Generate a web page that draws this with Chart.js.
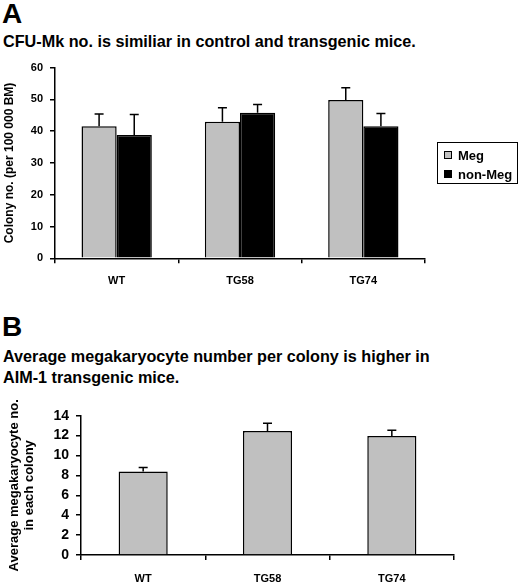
<!DOCTYPE html>
<html lang="en">
<head>
    <meta charset="UTF-8">
    <title>CFU-Mk colonies</title>
    <script src="https://cdn.jsdelivr.net/npm/chart.js"></script>
    <style>
        body { margin: 0; background: #fff; font-family: "Liberation Sans", Arial, sans-serif; font-weight: bold; color: #000; }
        .page { position: relative; width: 520px; height: 586px; overflow: hidden; }
        .abs { position: absolute; }
        .letter { font-size: 28px; line-height: 28px; }
        .title { font-size: 16.2px; line-height: 21px; white-space: nowrap; }
        .legend { border: 1.5px solid #000; box-sizing: border-box; font-size: 13px; padding: 3px 0 0 6px; }
        .legend div { height: 19px; line-height: 19px; }
        .legend span.sw { display: inline-block; width: 6px; height: 6px; border: 1px solid #000; margin-right: 6px; vertical-align: 1px; }
    </style>
</head>
<body>
<div class="page">
    <div class="abs letter" style="left:2px; top:0px;">A</div>
    <div class="abs title" style="left:3px; top:31px;">CFU-Mk no. is similiar in control and transgenic mice.</div>
    <canvas id="chartA" class="abs" style="left:0; top:50px; width:520px; height:240px;"></canvas>
    <div id="legendA" class="abs legend" style="left:437px; top:142px; width:81px; height:42px;"></div>

    <div class="abs letter" style="left:2px; top:313px;">B</div>
    <div class="abs title" style="left:3px; top:346px;">Average megakaryocyte number per colony is higher in<br>AIM-1 transgenic mice.</div>
    <canvas id="chartB" class="abs" style="left:0; top:390px; width:520px; height:196px;"></canvas>
</div>
<script>
    const categories = ['WT', 'TG58', 'TG74'];

    // panel A
    const megValues = [41.6, 43.0, 49.8];
    const megErrors = [3.8, 4.4, 3.9];
    const nonMegValues = [38.8, 45.8, 41.6];
    const nonMegErrors = [6.5, 2.6, 4.0];

    // panel B
    const perColonyValues = [8.4, 12.45, 11.95];
    const perColonyErrors = [0.4, 0.8, 0.6];

    const megColor = '#c0c0c0';
    const nonMegColor = '#000000';
    const fontFamily = '"Liberation Sans", Arial, sans-serif';

    // draws the upper half of an error bar on every bar
    const errorBars = {
        id: 'errorBars',
        afterDatasetsDraw(chart) {
            const ctx = chart.ctx;
            const yScale = chart.scales.y;
            ctx.save();
            ctx.strokeStyle = '#000';
            ctx.lineWidth = 1.5;
            chart.data.datasets.forEach((ds, i) => {
                const meta = chart.getDatasetMeta(i);
                meta.data.forEach((bar, j) => {
                    const x = bar.x;
                    const yTop = yScale.getPixelForValue(ds.data[j] + ds.errors[j]);
                    ctx.beginPath();
                    ctx.moveTo(x, bar.y);
                    ctx.lineTo(x, yTop);
                    ctx.moveTo(x - 4.5, yTop);
                    ctx.lineTo(x + 4.5, yTop);
                    ctx.stroke();
                });
            });
            ctx.restore();
        }
    };

    function axes(yMax, yStep, yWidth, yTitle, tickFont, titleFont, catPad, titleOpts) {
        return {
            x: {
                grid: { display: true, drawOnChartArea: false, color: '#000', lineWidth: 1.5, tickLength: 5, offset: true },
                border: { display: true, color: '#000', width: 1.5 },
                ticks: { color: '#000', padding: catPad, font: { family: fontFamily, weight: 'bold', size: 11 } },
                afterFit(scale) { scale.height = 32; }
            },
            y: {
                min: 0,
                max: yMax,
                ticks: { stepSize: yStep, color: '#000', padding: 7, font: { family: fontFamily, weight: 'bold', size: tickFont } },
                grid: { display: true, drawOnChartArea: false, color: '#000', lineWidth: 1.5, tickLength: 5 },
                border: { display: true, color: '#000', width: 1.5 },
                title: Object.assign({
                    display: true,
                    text: yTitle,
                    color: '#000',
                    font: { family: fontFamily, weight: 'bold', size: titleFont }
                }, titleOpts),
                afterFit(scale) { scale.width = yWidth; }
            }
        };
    }

    new Chart(document.getElementById('chartA'), {
        type: 'bar',
        data: {
            labels: categories,
            datasets: [
                { label: 'Meg', data: megValues, errors: megErrors, backgroundColor: megColor, borderColor: '#000', borderWidth: 1.5, barPercentage: 1, categoryPercentage: 0.57 },
                { label: 'non-Meg', data: nonMegValues, errors: nonMegErrors, backgroundColor: nonMegColor, borderColor: '#000', borderWidth: 1.5, barPercentage: 1, categoryPercentage: 0.57 }
            ]
        },
        options: {
            responsive: false,
            animation: false,
            layout: { padding: { left: 0, right: 95, top: 17.7, bottom: 240 - 208.3 - 32 } },
            plugins: { legend: { display: false }, tooltip: { enabled: false } },
            scales: axes(60, 10, 55, 'Colony no. (per 100 000 BM)', 11, 12, 11, { padding: { top: 2, bottom: 0 } })
        },
        plugins: [errorBars]
    });

    new Chart(document.getElementById('chartB'), {
        type: 'bar',
        data: {
            labels: categories,
            datasets: [
                { label: 'Average', data: perColonyValues, errors: perColonyErrors, backgroundColor: megColor, borderColor: '#000', borderWidth: 1.5, barPercentage: 1, categoryPercentage: 0.395 }
            ]
        },
        options: {
            responsive: false,
            animation: false,
            layout: { padding: { left: 0, right: 66, top: 25.7, bottom: 196 - 165 - 32 } },
            plugins: { legend: { display: false }, tooltip: { enabled: false } },
            scales: axes(14, 2, 81, ['Average megakaryocyte no.', 'in each colony'], 14, 13, 12, { padding: { top: 7, bottom: 0 }, font: { family: fontFamily, weight: 'bold', size: 13, lineHeight: 15 / 13 } })
        },
        plugins: [errorBars]
    });

    // legend for panel A, from the dataset colours
    const legendA = document.getElementById('legendA');
    [['Meg', megColor], ['non-Meg', nonMegColor]].forEach(([name, color]) => {
        const row = document.createElement('div');
        row.innerHTML = '<span class="sw" style="background:' + color + '"></span>' + name;
        legendA.appendChild(row);
    });
</script>
</body>
</html>
